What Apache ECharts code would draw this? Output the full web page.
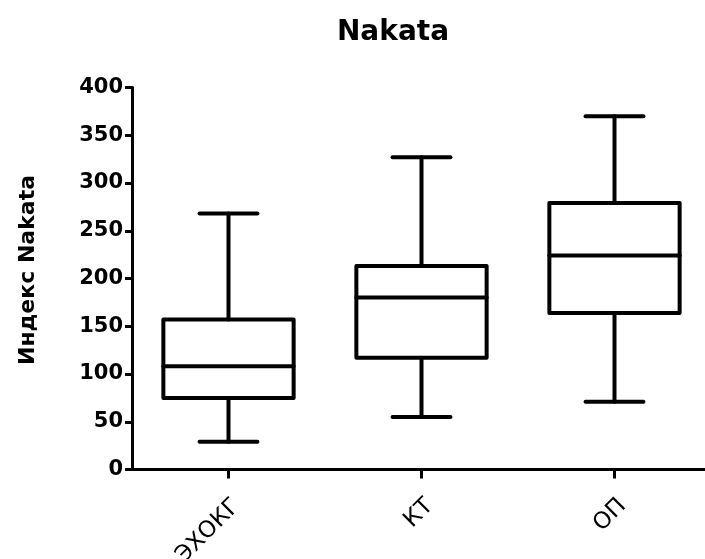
<!DOCTYPE html>
<html>
<head>
<meta charset="utf-8">
<script src="https://cdn.jsdelivr.net/npm/echarts@6/dist/echarts.min.js"></script>
<style>html,body{margin:0;padding:0;background:#fff}#c{width:705px;height:559px}</style>
</head>
<body>
<div id="c"></div>
<script>
const categories = ['ЭХОКГ', 'КТ', 'ОП'];
const whiskerMin = [29, 55, 71];
const q1 = [75, 117, 164];
const median = [108, 180, 224];
const q3 = [157, 213, 279];
const whiskerMax = [268, 327, 370];
const yTicks = { min: 0, max: 400, interval: 50 };

const boxData = categories.map((c, i) => [i, whiskerMin[i], q1[i], median[i], q3[i], whiskerMax[i]]);

const FONT = 'DejaVu Sans';
const chart = echarts.init(document.getElementById('c'));
chart.setOption({
  animation: false,
  backgroundColor: '#fff',
  title: {
    text: 'Nakata', left: 388, top: 14, textAlign: 'center',
    textStyle: { fontFamily: FONT, fontWeight: 'bold', fontSize: 28, color: '#000' }
  },
  graphic: [{
    type: 'text', x: 28, y: 270, rotation: Math.PI / 2,
    style: { text: 'Индекс Nakata', fontFamily: FONT, fontWeight: 'bold', fontSize: 22, fill: '#000', align: 'center', verticalAlign: 'middle' }
  }],
  grid: { left: 132, width: 579, top: 87.5, bottom: 89.5, containLabel: false, outerBoundsMode: 'none' },
  xAxis: {
    type: 'category', data: categories,
    axisLine: { lineStyle: { color: '#000', width: 3 } },
    axisTick: { show: true, alignWithLabel: true, length: 9, lineStyle: { color: '#000', width: 3 } },
    axisLabel: { rotate: 45, margin: 25, align: 'right', verticalAlign: 'top', fontFamily: FONT, fontSize: 23, color: '#000' },
    splitLine: { show: false }
  },
  yAxis: {
    type: 'value', min: yTicks.min, max: yTicks.max, interval: yTicks.interval,
    axisLine: { show: true, lineStyle: { color: '#000', width: 3 } },
    axisTick: { show: true, length: 7, lineStyle: { color: '#000', width: 3 } },
    axisLabel: { margin: 9, fontFamily: FONT, fontWeight: 'bold', fontSize: 21, color: '#000' },
    splitLine: { show: false }
  },
  series: [{
    type: 'custom',
    data: boxData,
    encode: { x: 0, y: [1, 2, 3, 4, 5] },
    renderItem: function (params, api) {
      const x = api.value(0);
      const pLo = api.coord([x, api.value(1)]);
      const pQ1 = api.coord([x, api.value(2)]);
      const pMed = api.coord([x, api.value(3)]);
      const pQ3 = api.coord([x, api.value(4)]);
      const pHi = api.coord([x, api.value(5)]);
      const band = api.size([1, 0])[0];
      const bw = band * 0.675, cw = band * 0.3;
      const cx = pMed[0];
      const st = { stroke: '#000', lineWidth: 4, fill: null, lineCap: 'round', lineJoin: 'round' };
      const line = (x1, y1, x2, y2) => ({ type: 'line', shape: { x1, y1, x2, y2 }, style: st });
      return { type: 'group', children: [
        { type: 'rect', shape: { x: cx - bw / 2, y: pQ3[1], width: bw, height: pQ1[1] - pQ3[1] }, style: { stroke: '#000', lineWidth: 4, fill: '#fff', lineJoin: 'round' } },
        line(cx - bw / 2, pMed[1], cx + bw / 2, pMed[1]),
        line(cx, pQ3[1], cx, pHi[1]),
        line(cx, pQ1[1], cx, pLo[1]),
        line(cx - cw / 2, pHi[1], cx + cw / 2, pHi[1]),
        line(cx - cw / 2, pLo[1], cx + cw / 2, pLo[1])
      ] };
    }
  }]
});
</script>
</body>
</html>
